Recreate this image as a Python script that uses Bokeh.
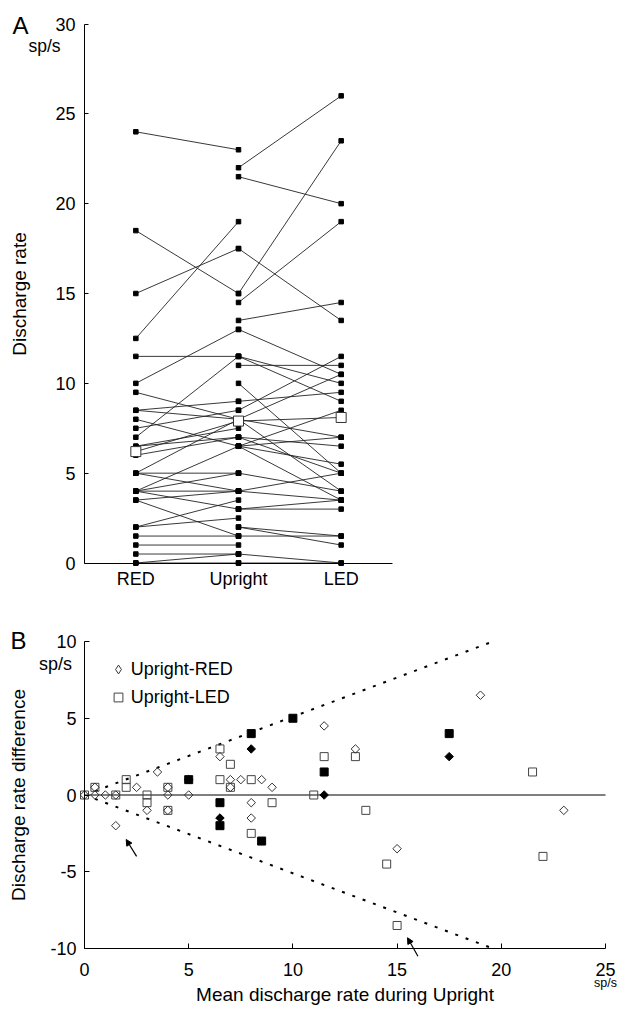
import numpy as np
from bokeh.plotting import figure
from bokeh.layouts import column
from bokeh.models import (Range1d, FixedTicker, Label, Legend, LegendItem,
                          Arrow, NormalHead, ColumnDataSource)
from bokeh.embed import file_html
from bokeh.resources import INLINE

FONT = "Liberation Sans"

# ---------------- data ----------------
conditions = ["RED", "Upright", "LED"]
cond_pos = [1, 2, 3]

# neurons recorded in RED and Upright (sp/s)
ru_red = [0, 0.5, 1, 1.5, 0, 2, 2, 4, 3.5, 3.5, 4, 5, 5, 4, 4, 8, 6, 6.5, 6.5, 5,
          8.5, 9.5, 7.5, 8.5, 7, 11.5, 10, 18.5, 15, 12.5, 24]
ru_up = [0, 0.5, 1, 1.5, 0.5, 2.5, 3.5, 3, 1.5, 4, 4, 4, 5, 5, 6.5, 6.5, 7, 7, 7.5, 8,
         8, 8, 8.5, 9, 11.5, 11.5, 13, 15, 17.5, 19, 23]
ru_filled = [0, 0, 0, 0, 0, 0, 0, 0, 0, 0, 0, 0, 0, 1, 0, 1, 0, 0, 0, 1,
             0, 0, 0, 0, 0, 1, 0, 0, 1, 0, 0]

# neurons recorded in Upright and LED (sp/s)
ul_up = [0, 0.5, 1.5, 2, 2, 3, 3, 4, 4, 5, 6.5, 6.5, 6.5, 6.5, 7, 7, 8, 8, 8, 8.5,
         9, 10, 11, 11.5, 11.5, 13, 13.5, 14.5, 15, 17.5, 21.5, 22]
ul_led = [0, 0, 1.5, 1, 1.5, 3, 3.5, 3.5, 5, 4, 3.5, 5.5, 7, 8.5, 5, 6.5, 7, 4, 10.5, 11.5,
          9.5, 5, 11, 9, 10, 10.5, 14.5, 19, 23.5, 13.5, 20, 26]
ul_filled = [0, 0, 0, 0, 0, 0, 0, 0, 0, 1, 0, 0, 1, 1, 0, 0, 0, 1, 0, 1,
             0, 1, 0, 0, 1, 0, 0, 0, 0, 1, 0, 0]

mean_rates = [6.2, 7.9, 8.1]

a_yticks = [0, 5, 10, 15, 20, 25, 30]
b_xticks = [0, 5, 10, 15, 20, 25]
b_yticks = [-10, -5, 0, 5, 10]

zero_x = [0, 25]
zero_y = [0, 0]
env_x = [0.5, 19.6]
env_hi = [0.25, 10.0]
env_lo = [-0.25, -10.0]

arrow_tail_x = [2.5, 16.0]
arrow_tail_y = [-4.0, -10.5]
arrow_head_x = [2.0, 15.5]
arrow_head_y = [-2.9, -9.3]

# ---------------- layout geometry (pixels) ----------------
WA, HA = 400, 600
WB, HB = 622, 412
# panel A: data x 0.5..3.5 -> px 84..392 ; data y 0..30 -> px 562.5..23.5
A_x0, A_x1, A_px0, A_px1 = 0.5, 3.5, 84.0, 392.0
A_y0, A_y1, A_py0, A_py1 = 0.0, 30.0, 562.5, 23.5
# panel B (canvas coords, top of B = 0): x 0..25 -> 84..605 ; y -10..10 -> 348..41
B_x0, B_x1, B_px0, B_px1 = 0.0, 25.0, 84.0, 605.0
B_y0, B_y1, B_py0, B_py1 = -10.0, 10.0, 348.0, 41.0


def mapper(d0, d1, p0, p1):
    k = (d1 - d0) / (p1 - p0)
    return lambda px: d0 + (px - p0) * k


axp = mapper(A_x0, A_x1, A_px0, A_px1)
ayp = mapper(A_y0, A_y1, A_py0, A_py1)
bxp = mapper(B_x0, B_x1, B_px0, B_px1)
byp = mapper(B_y0, B_y1, B_py0, B_py1)


def base_style(p):
    p.grid.visible = False
    p.outline_line_color = None
    p.background_fill_color = "white"
    p.border_fill_color = "white"
    for ax in p.axis:
        ax.axis_line_color = "black"
        ax.axis_line_width = 1
        ax.major_tick_line_color = "black"
        ax.minor_tick_line_color = None
        ax.major_label_text_font = FONT
        ax.major_label_text_font_size = "18px"
        ax.major_label_text_color = "black"
        ax.axis_label_text_font = FONT
        ax.axis_label_text_font_size = "19px"
        ax.axis_label_text_font_style = "normal"
        ax.axis_label_text_color = "black"


def add_label(p, x, y, text, size):
    p.add_layout(Label(x=x, y=y, text=text, text_align="center", text_baseline="middle",
                       text_font=FONT, text_font_size=size, text_color="black"))


# ---------------- panel A ----------------
pA = figure(width=WA, height=HA,
            x_range=Range1d(axp(0), axp(WA)), y_range=Range1d(ayp(HA), ayp(0)),
            output_backend="svg", toolbar_location=None, min_border=0)
base_style(pA)

n1 = len(ru_red)
n2 = len(ul_up)
srcA1 = ColumnDataSource(dict(x0=[cond_pos[0]] * n1, y0=ru_red, x1=[cond_pos[1]] * n1, y1=ru_up))
srcA2 = ColumnDataSource(dict(x0=[cond_pos[1]] * n2, y0=ul_up, x1=[cond_pos[2]] * n2, y1=ul_led))
pA.segment(x0="x0", y0="y0", x1="x1", y1="y1", source=srcA1, line_color="#222222", line_width=0.9)
pA.segment(x0="x0", y0="y0", x1="x1", y1="y1", source=srcA2, line_color="#222222", line_width=0.9)
pA.line(x=cond_pos, y=mean_rates, line_color="#222222", line_width=0.9)

pA.scatter(x=[cond_pos[0]] * n1 + [cond_pos[1]] * n1, y=ru_red + ru_up,
           marker="square", size=4.5, color="black")
pA.scatter(x=[cond_pos[1]] * n2 + [cond_pos[2]] * n2, y=ul_up + ul_led,
           marker="square", size=4.5, color="black")
pA.scatter(x=cond_pos, y=mean_rates, marker="square", size=10,
           fill_color="white", line_color="#333333", line_width=1)

pA.yaxis.fixed_location = A_x0
pA.yaxis.bounds = (A_y0, A_y1)
pA.yaxis.ticker = FixedTicker(ticks=a_yticks)
pA.yaxis.major_tick_in = 4
pA.yaxis.major_tick_out = 0
pA.yaxis.major_label_standoff = 9
pA.yaxis.axis_label = "Discharge rate"
pA.yaxis.axis_label_standoff = 22

pA.xaxis.fixed_location = A_y0
pA.xaxis.bounds = (A_x0, A_x1)
pA.xaxis.ticker = FixedTicker(ticks=cond_pos)
pA.xaxis.major_label_overrides = dict(zip(cond_pos, conditions))
pA.xaxis.major_tick_in = 0
pA.xaxis.major_tick_out = 0
pA.xaxis.major_label_standoff = 6

add_label(pA, axp(20), ayp(25), "A", "24px")
add_label(pA, axp(44), ayp(45), "sp/s", "17.5px")

# ---------------- panel B ----------------
pB = figure(width=WB, height=HB,
            x_range=Range1d(bxp(0), bxp(WB)), y_range=Range1d(byp(HB), byp(0)),
            output_backend="svg", toolbar_location=None, min_border=0)
base_style(pB)

ru_diff = [u - r for u, r in zip(ru_up, ru_red)]
ul_diff = [u - l for u, l in zip(ul_up, ul_led)]

pB.line(zero_x, zero_y, line_color="black", line_width=1)
pB.line(env_x, env_hi, line_color="black", line_width=2, line_dash="3 8")
pB.line(env_x, env_lo, line_color="black", line_width=2, line_dash="3 8")

sq_open_x = [x for x, f in zip(ul_up, ul_filled) if not f]
sq_open_y = [y for y, f in zip(ul_diff, ul_filled) if not f]
sq_fill_x = [x for x, f in zip(ul_up, ul_filled) if f]
sq_fill_y = [y for y, f in zip(ul_diff, ul_filled) if f]
di_open_x = [x for x, f in zip(ru_up, ru_filled) if not f]
di_open_y = [y for y, f in zip(ru_diff, ru_filled) if not f]
di_fill_x = [x for x, f in zip(ru_up, ru_filled) if f]
di_fill_y = [y for y, f in zip(ru_diff, ru_filled) if f]

r_sq = pB.scatter(sq_open_x, sq_open_y, marker="square", size=8, fill_alpha=0,
                  line_color="#444444", line_width=1)
pB.scatter(sq_fill_x, sq_fill_y, marker="square", size=8, color="black")
pB.scatter(di_open_x, di_open_y, marker="square", angle=np.pi / 4, size=6,
           fill_alpha=0, line_color="#333333", line_width=1)
pB.scatter(di_fill_x, di_fill_y, marker="square", angle=np.pi / 4, size=6, color="black")
# hidden twin of the open diamonds, used only to draw the legend key
r_di_key = pB.scatter(di_open_x, di_open_y, marker="diamond", size=9, fill_alpha=0,
                      line_color="#333333", line_width=1, visible=False)

for tx, ty, hx, hy in zip(arrow_tail_x, arrow_tail_y, arrow_head_x, arrow_head_y):
    pB.add_layout(Arrow(x_start=tx, y_start=ty, x_end=hx, y_end=hy, line_width=1.2,
                        line_color="black",
                        end=NormalHead(size=6, fill_color="black", line_color="black")))

leg_h = 22 + 6 + 22
legend = Legend(items=[LegendItem(label="Upright-RED", renderers=[r_di_key]),
                       LegendItem(label="Upright-LED", renderers=[r_sq])],
                location=(106.7, HB - 58 - leg_h), border_line_alpha=0, background_fill_alpha=0,
                label_text_font=FONT, label_text_font_size="18px", label_text_color="black",
                glyph_width=22, glyph_height=22, label_height=22, spacing=6,
                padding=0, margin=0, label_standoff=2)
pB.add_layout(legend)

pB.yaxis.fixed_location = B_x0
pB.yaxis.bounds = (B_y0, B_y1)
pB.xaxis.fixed_location = B_y0
pB.xaxis.bounds = (B_x0, B_x1)
pB.xaxis.ticker = FixedTicker(ticks=b_xticks)
pB.yaxis.ticker = FixedTicker(ticks=b_yticks)
pB.yaxis.major_label_overrides = {t: str(t) for t in b_yticks}
for ax in pB.axis:
    ax.major_tick_in = 5
    ax.major_tick_out = 0
pB.yaxis.major_label_standoff = 8
pB.xaxis.major_label_standoff = 14
pB.yaxis.axis_label = "Discharge rate difference"
pB.yaxis.axis_label_standoff = 18
pB.xaxis.axis_label = "Mean discharge rate during Upright"
pB.xaxis.axis_label_standoff = 5

add_label(pB, bxp(18), byp(40), "B", "24px")
add_label(pB, bxp(55), byp(63), "sp/s", "18px")
add_label(pB, bxp(605), byp(382), "sp/s", "12.5px")

layout = column(pA, pB, spacing=0)
open("out.html", "w").write(file_html(layout, INLINE))
